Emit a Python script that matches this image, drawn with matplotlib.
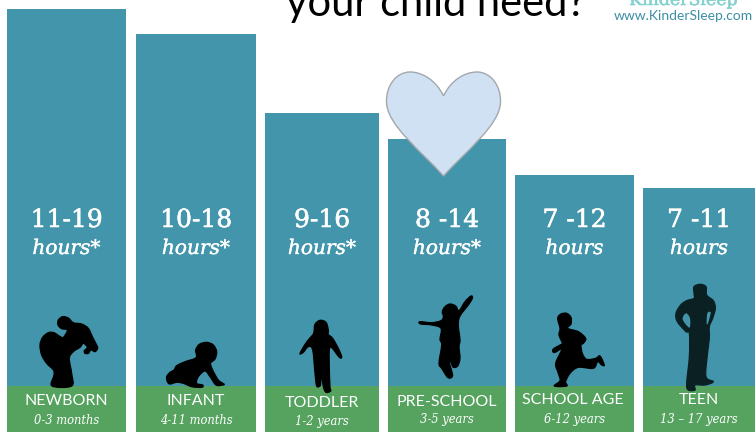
#!/usr/bin/env python3
"""Recreates the KinderSleep 'how much sleep does your child need' bar graphic."""
import matplotlib
matplotlib.use("Agg")
import matplotlib.patheffects as pe
import matplotlib.pyplot as plt
from matplotlib.patches import PathPatch
from matplotlib.path import Path

W, H = 755, 432

# data (bar height above the bottom edge, in pixels)
groups = ["NEWBORN", "INFANT", "TODDLER", "PRE-SCHOOL", "SCHOOL AGE", "TEEN"]
ages = ["0-3 months", "4-11 months", "1-2 years", "3-5 years", "6-12 years", "13 – 17 years"]
hour_ranges = ["11-19", "10-18", "9-16", "8 -14", "7 -12", "7 -11"]
hour_units = ["hours*", "hours*", "hours*", "hours*", "hours", "hours"]
bar_heights = [423, 398, 319, 293, 257, 244]

bar_lefts = [7, 136, 265, 388, 515, 643]
bar_rights = [126, 256, 379, 506, 634, 755]
group_y = [401, 401, 403, 402, 400, 400]
age_y = [421, 421, 421, 420, 420, 420]
BAND_HEIGHT = 46

TEAL = "#4295aa"
GREEN = "#55a35f"
BLACK = "#000000"


def blob(ax, points, x0, y0, color=BLACK, zorder=5, lw=0.9):
    # outlines were traced on 3x crops; closed Catmull-Rom so the edges stay rounded
    pts = [(x0 + x / 3, H - (y0 + y / 3)) for x, y in points]
    n = len(pts)
    verts = [pts[0]]
    codes = [Path.MOVETO]
    for i in range(n):
        p0, p1, p2, p3 = pts[i - 1], pts[i], pts[(i + 1) % n], pts[(i + 2) % n]
        verts += [(p1[0] + (p2[0] - p0[0]) / 6, p1[1] + (p2[1] - p0[1]) / 6),
                  (p2[0] - (p3[0] - p1[0]) / 6, p2[1] - (p3[1] - p1[1]) / 6),
                  p2]
        codes += [Path.CURVE4] * 3
    ax.add_patch(PathPatch(Path(verts, codes), fc=color, ec=color, lw=lw, zorder=zorder))


def heart(ax):
    pts = [(443.5, 96), (436, 80), (422, 72), (410, 72), (396, 72), (386, 86), (386.5, 102),
           (387, 125), (420, 150), (443.5, 176), (467, 150), (500, 125), (500.5, 102),
           (501, 86), (491, 72), (477, 72), (465, 72), (451, 80), (443.5, 96)]
    codes = [Path.MOVETO] + [Path.CURVE4] * (len(pts) - 1)
    ax.add_patch(PathPatch(Path([(x, H - y) for x, y in pts], codes), fc="#cfe1f2",
                           ec="#a3a8ad", lw=1.0, zorder=4))


fig = plt.figure(figsize=(W / 100, H / 100), dpi=100)
ax = fig.add_axes([0, 0, 1, 1])
ax.set_xlim(0, W)
ax.set_ylim(0, H)
ax.axis("off")

widths = [r - l for l, r in zip(bar_lefts, bar_rights)]
ax.bar(bar_lefts, bar_heights, width=widths, align="edge", color=TEAL, zorder=2)
ax.bar(bar_lefts, [BAND_HEIGHT] * len(groups), width=widths, align="edge", color=GREEN, zorder=3)

serif = "DejaVu Serif"
heavy = [pe.withStroke(linewidth=0.4, foreground="white")]
light = [pe.withStroke(linewidth=0.25, foreground="white")]
rows = zip(bar_lefts, bar_rights, hour_ranges, hour_units, groups, ages, group_y, age_y)
for left, right, rng, unit, group, age, gy, ay in rows:
    cx = (left + right) / 2
    ax.text(cx, H - 227, rng, color="white", fontsize=18, family=serif, ha="center", va="baseline",
            zorder=6, path_effects=heavy)
    ax.text(cx, H - 254, unit, color="white", fontsize=14.5, family=serif, style="italic",
            ha="center", va="baseline", zorder=6, path_effects=light)
    ax.text(cx - (1.5 if group == "SCHOOL AGE" else 0), H - gy, group, color="white", fontsize=11.5,
            family="Lato", ha="center", va="center", zorder=6)
    ax.text(cx, H - ay, age, color="white", fontsize=8.3, family=serif, style="italic",
            ha="center", va="center", zorder=6)

heart(ax)

# header, cut off by the top of the picture
ax.text(435.5, H - 16, "your child need?", color="black", fontsize=30, family="Lato",
        ha="center", va="baseline", zorder=6)
ax.text(683.5, H - 5, "KinderSleep", color="#84d2cf", fontsize=12.5, family=serif,
        ha="center", va="baseline", zorder=6, path_effects=[pe.withStroke(linewidth=0.4, foreground="#84d2cf")])
ax.text(683, H - 20, "www.KinderSleep.com", color="#3c8ea6", fontsize=10, family="Lato",
        ha="center", va="baseline", zorder=6)

# person silhouettes
blob(ax, [(66, 228), (72, 195), (70, 180), (50, 160), (35, 135), (30, 105), (38, 82), (55, 68), (72, 68),
          (88, 78), (100, 82), (112, 60), (95, 56), (84, 45), (85, 30), (98, 20), (115, 24), (130, 38),
          (155, 42), (175, 55), (188, 82), (200, 105), (203, 115), (195, 125), (183, 120), (175, 130),
          (165, 130), (163, 122), (172, 112), (160, 100), (150, 112), (130, 125), (118, 145), (125, 190),
          (125, 228)], 30, 310)
blob(ax, [(20, 125), (30, 112), (42, 105), (50, 92), (75, 80), (108, 68), (107, 45), (118, 28), (140, 22),
          (160, 30), (170, 50), (165, 72), (152, 85), (158, 105), (175, 135), (192, 147), (188, 150),
          (168, 150), (150, 125), (135, 108), (115, 125), (110, 145), (128, 150), (125, 157), (95, 155),
          (70, 145), (50, 142), (30, 147), (22, 140)], 160, 335)
blob(ax, [(72, 50), (75, 28), (90, 16), (108, 22), (115, 45), (115, 58), (128, 70), (145, 100), (155, 125),
          (148, 127), (125, 98), (118, 105), (118, 160), (120, 215), (122, 228), (108, 232), (100, 215),
          (95, 180), (92, 205), (90, 213), (80, 213), (75, 175), (68, 105), (55, 95), (40, 112), (30, 117),
          (35, 105), (52, 78), (68, 60)], 290, 315)
blob(ax, [(15, 95), (50, 98), (78, 92), (85, 80), (82, 65), (90, 50), (105, 42), (122, 48), (132, 62),
          (150, 35), (168, 18), (172, 25), (160, 45), (135, 78), (130, 105), (135, 150), (132, 170),
          (135, 205), (128, 228), (115, 232), (108, 218), (100, 208), (112, 250), (110, 262), (98, 262),
          (80, 235), (72, 220), (80, 165), (75, 148), (78, 115), (50, 105), (17, 102)], 415, 290)
blob(ax, [(38, 25), (48, 12), (65, 10), (78, 22), (78, 42), (68, 55), (100, 65), (122, 85), (115, 100),
          (108, 105), (112, 130), (125, 148), (152, 145), (165, 138), (178, 165), (170, 165), (158, 155),
          (145, 175), (100, 172), (75, 190), (62, 215), (65, 228), (28, 228), (45, 212), (40, 190),
          (32, 160), (50, 118), (28, 128), (24, 118), (45, 105), (52, 100), (42, 75), (45, 55)], 545, 310)
blob(ax, [(72, 40), (72, 20), (90, 13), (108, 20), (110, 45), (130, 62), (136, 85), (128, 115), (118, 140),
          (118, 175), (112, 225), (108, 290), (130, 305), (105, 315), (75, 315), (75, 330), (55, 330),
          (50, 310), (58, 230), (58, 160), (48, 155), (22, 125), (18, 100), (32, 75), (50, 62), (72, 55)],
     670, 280, color="#0b2022")
# gaps between the teen's arms and body
blob(ax, [(48, 100), (38, 118), (58, 143), (60, 115)], 670, 280, color=TEAL, zorder=6, lw=0)
blob(ax, [(112, 100), (122, 98), (114, 130), (110, 130)], 670, 280, color=TEAL, zorder=6, lw=0)

fig.savefig("out.png", dpi=100)
